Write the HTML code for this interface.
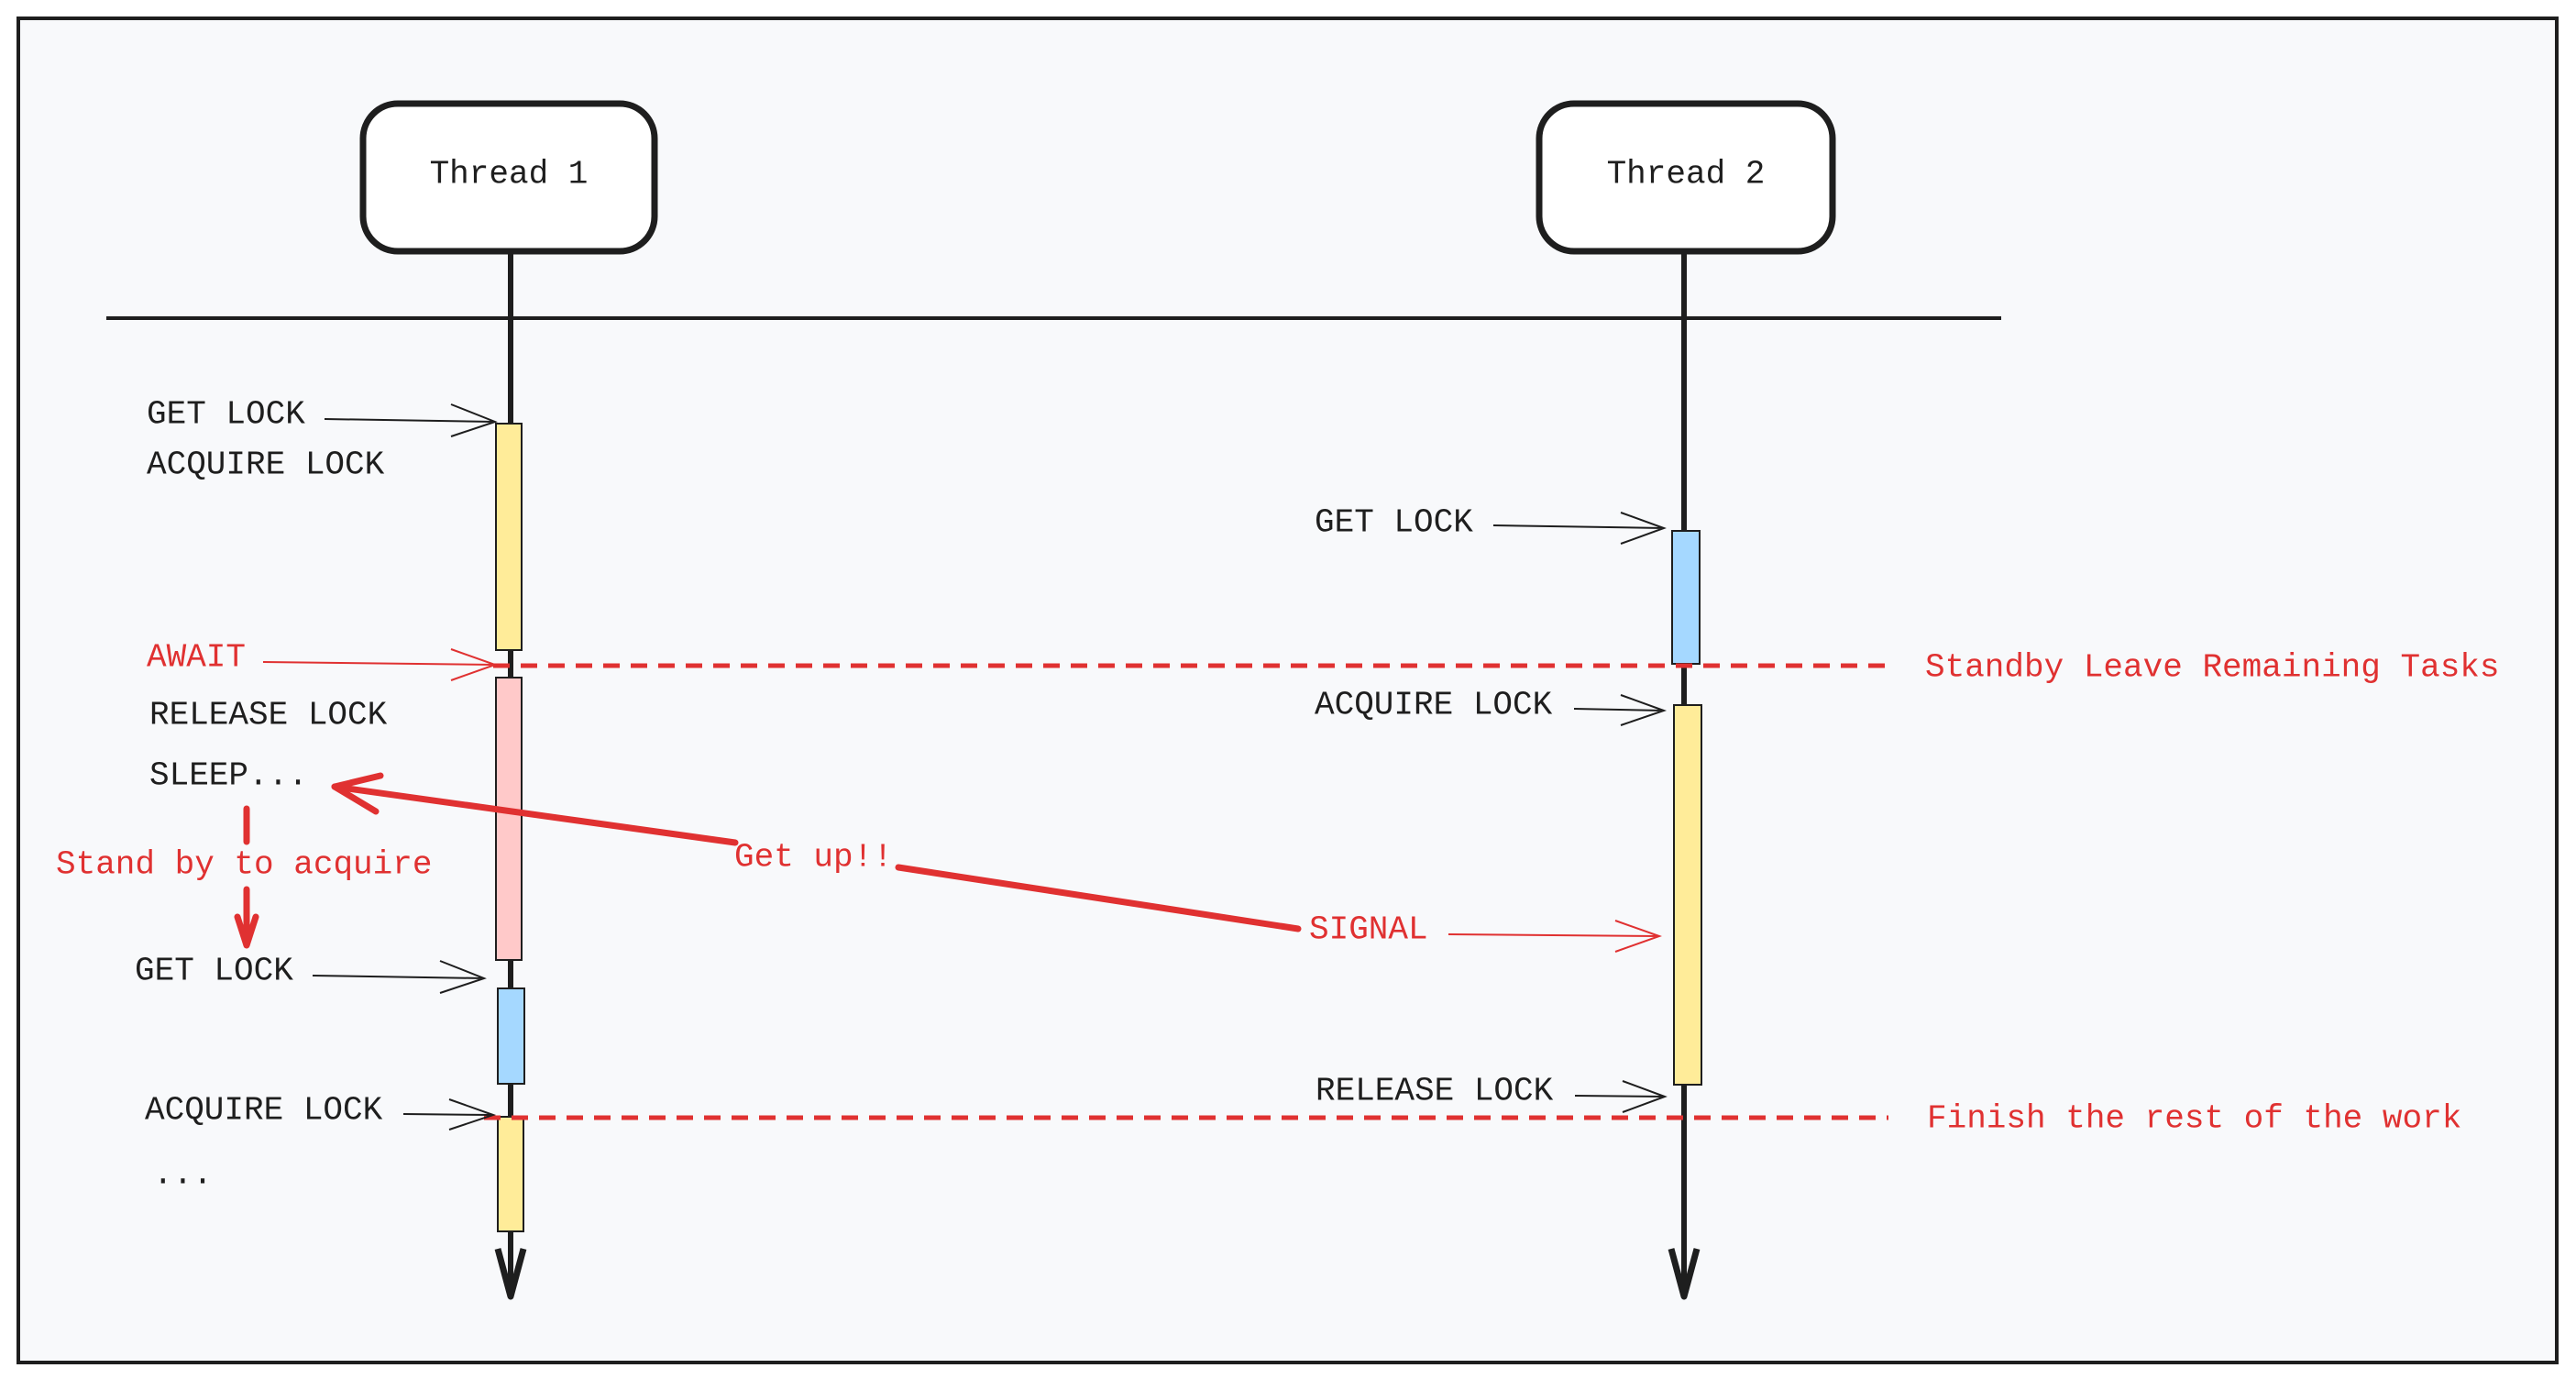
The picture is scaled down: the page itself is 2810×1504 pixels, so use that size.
<!DOCTYPE html>
<html><head><meta charset="utf-8"><style>
html,body{margin:0;padding:0;background:#fff;}
svg{display:block;}
text{font-family:"Liberation Mono",monospace;font-size:36px;dominant-baseline:central;}
</style></head><body>
<svg width="2810" height="1504" viewBox="0 0 2810 1504" xmlns="http://www.w3.org/2000/svg">
<rect x="0" y="0" width="2810" height="1504" fill="#ffffff"/>
<rect x="20" y="20" width="2769" height="1466" fill="#f8f9fb" stroke="#1e1e1e" stroke-width="4"/>
<!-- separator -->
<line x1="116" y1="347" x2="2183" y2="347" stroke="#1e1e1e" stroke-width="4"/>
<!-- lifelines -->
<line x1="557" y1="274" x2="557" y2="1410" stroke="#1e1e1e" stroke-width="6"/>
<line x1="1837" y1="274" x2="1837" y2="1410" stroke="#1e1e1e" stroke-width="6"/>
<path d="M543 1362 L557 1414 L571 1362" fill="none" stroke="#1e1e1e" stroke-width="7" stroke-linejoin="round"/>
<path d="M1823 1362 L1837 1414 L1851 1362" fill="none" stroke="#1e1e1e" stroke-width="7" stroke-linejoin="round"/>
<!-- thread boxes -->
<rect x="396" y="113" width="318" height="161" rx="38" fill="#fff" stroke="#1e1e1e" stroke-width="7"/>
<rect x="1679" y="113" width="320" height="161" rx="38" fill="#fff" stroke="#1e1e1e" stroke-width="7"/>
<text x="555" y="190" text-anchor="middle" fill="#1e1e1e">Thread 1</text>
<text x="1839" y="190" text-anchor="middle" fill="#1e1e1e">Thread 2</text>
<!-- activations -->
<rect x="541" y="462" width="28" height="247" fill="#ffec99" stroke="#1e1e1e" stroke-width="2"/>
<rect x="541" y="739" width="28" height="308" fill="#ffc9c9" stroke="#1e1e1e" stroke-width="2"/>
<rect x="543" y="1078" width="29" height="104" fill="#a5d8ff" stroke="#1e1e1e" stroke-width="2"/>
<rect x="543" y="1218" width="28" height="125" fill="#ffec99" stroke="#1e1e1e" stroke-width="2"/>
<rect x="1824" y="579" width="30" height="145" fill="#a5d8ff" stroke="#1e1e1e" stroke-width="2"/>
<rect x="1826" y="769" width="30" height="414" fill="#ffec99" stroke="#1e1e1e" stroke-width="2"/>
<!-- dashed red lines -->
<line x1="538" y1="726" x2="2065" y2="726" stroke="#e03131" stroke-width="5" stroke-dasharray="18 12"/>
<line x1="528" y1="1219" x2="2060" y2="1219" stroke="#e03131" stroke-width="5" stroke-dasharray="18 12"/>
<!-- thin arrows -->
<g fill="none" stroke="#1e1e1e" stroke-width="2">
<path d="M354 457 L540 460 M492 441 L540 460 L492 476"/>
<path d="M341 1064 L528 1067 M480 1048 L528 1067 L480 1083"/>
<path d="M440 1215 L538 1216 M490 1199 L538 1216 L490 1232"/>
<path d="M1629 573 L1815 576 M1768 559 L1815 576 L1768 593"/>
<path d="M1717 773 L1815 775 M1768 758 L1815 775 L1768 791"/>
<path d="M1718 1195 L1816 1196 M1770 1179 L1816 1196 L1770 1213"/>
</g>
<g fill="none" stroke="#e03131" stroke-width="2">
<path d="M287 722 L540 725 M492 708 L540 725 L492 742"/>
<path d="M1580 1019 L1810 1021 M1762 1004 L1810 1021 L1762 1038"/>
</g>
<!-- thick red signal arrow -->
<g fill="none" stroke="#e03131" stroke-width="7" stroke-linecap="round" stroke-linejoin="round">
<path d="M802 919 L365 858"/>
<path d="M980 946 L1416 1013"/>
<path d="M415 846 L365 858 L410 885"/>
<path d="M269 882 L269 918"/>
<path d="M269 970 L269 1030"/>
<path d="M259 1000 L269 1031 L279 1000"/>
</g>
<!-- labels -->
<g fill="#1e1e1e">
<text x="160" y="452">GET LOCK</text>
<text x="160" y="507">ACQUIRE LOCK</text>
<text x="163" y="780">RELEASE LOCK</text>
<text x="163" y="846">SLEEP...</text>
<text x="147" y="1059">GET LOCK</text>
<text x="158" y="1211">ACQUIRE LOCK</text>
<text x="167" y="1281">...</text>
<text x="1434" y="570">GET LOCK</text>
<text x="1434" y="769">ACQUIRE LOCK</text>
<text x="1435" y="1190">RELEASE LOCK</text>
</g>
<g fill="#e03131">
<text x="160" y="717">AWAIT</text>
<text x="61" y="943">Stand by to acquire</text>
<text x="801" y="935">Get up!!</text>
<text x="1428" y="1014">SIGNAL</text>
<text x="2100" y="728">Standby Leave Remaining Tasks</text>
<text x="2102" y="1220">Finish the rest of the work</text>
</g>
</svg>
</body></html>
